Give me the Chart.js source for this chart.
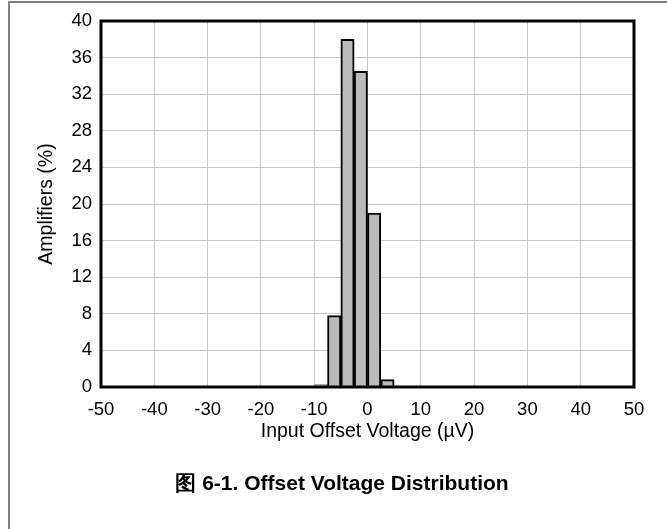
<!DOCTYPE html>
<html>
<head>
<meta charset="utf-8">
<script src="https://cdn.jsdelivr.net/npm/chart.js@4"></script>
<style>
  html, body { margin: 0; padding: 0; background: #fff; }
  canvas { display: block; }
</style>
</head>
<body>
<canvas id="histo" width="667" height="529"></canvas>
<script>
// Datos del histograma (centro de cada bin de 2.5 µV)
const binCenters = [-8.75, -6.25, -3.75, -1.25, 1.25, 3.75];
const amplifiersPct = [0.3, 7.8, 38, 34.5, 19, 0.8];
const xTicks = [-50, -40, -30, -20, -10, 0, 10, 20, 30, 40, 50];
const yTicks = [0, 4, 8, 12, 16, 20, 24, 28, 32, 36, 40];

const xTitle = 'Input Offset Voltage (µV)';
const yTitle = 'Amplifiers (%)';
const caption = '图 6-1. Offset Voltage Distribution';

const font = 'Liberation Sans, Arial, sans-serif';

// Marco, borde del área y pie de figura
const framePlugin = {
    id: 'frame',
    afterDatasetsDraw(chart) {
        const ctx = chart.ctx;
        const a = chart.chartArea;
        ctx.save();
        ctx.strokeStyle = '#000';
        ctx.lineWidth = 3;
        ctx.strokeRect(a.left, a.top, a.right - a.left, a.bottom - a.top);
        ctx.restore();
    },
    afterDraw(chart) {
        const ctx = chart.ctx;
        ctx.save();
        ctx.strokeStyle = '#808080';
        ctx.lineWidth = 2;
        ctx.beginPath();
        ctx.moveTo(9, 529);
        ctx.lineTo(9, 2);
        ctx.lineTo(667, 2);
        ctx.stroke();
        ctx.fillStyle = '#000';
        ctx.font = 'bold 21px ' + font;
        ctx.textAlign = 'center';
        ctx.textBaseline = 'middle';
        ctx.fillText(caption, 342, 484);
        ctx.restore();
    }
};

const ctxHisto = document.getElementById('histo').getContext('2d');
new Chart(ctxHisto, {
    type: 'bar',
    data: {
        datasets: [{
            data: binCenters.map((x, i) => ({ x: x, y: amplifiersPct[i] })),
            backgroundColor: '#BBBBBB',
            borderColor: c => (c.raw && c.raw.y < 0.5) ? '#AAAAAA' : '#000000',
            borderWidth: c => (c.raw && c.raw.y < 0.5) ? 1 : 2,
            barPercentage: 1,
            categoryPercentage: 1
        }]
    },
    options: {
        responsive: false,
        animation: false,
        layout: { padding: { top: 21, right: 33, left: 0, bottom: 86 } },
        plugins: {
            legend: { display: false },
            tooltip: { enabled: false }
        },
        scales: {
            x: {
                type: 'linear',
                min: -50,
                max: 50,
                offset: false,
                grid: { offset: false, color: '#C8C8C8', drawTicks: false },
                border: { display: false },
                afterFit: s => { s.height = 56; },
                afterBuildTicks: s => { s.ticks = xTicks.map(v => ({ value: v })); },
                ticks: { color: '#000', padding: 12, font: { family: font, size: 18.5 } },
                title: {
                    display: true,
                    text: xTitle,
                    color: '#000',
                    font: { family: font, size: 19.5 },
                    padding: { top: 0, bottom: 0 }
                }
            },
            y: {
                min: 0,
                max: 40,
                grid: { color: '#C8C8C8', drawTicks: false },
                border: { display: false },
                afterFit: s => { s.width = 101; },
                ticks: {
                    stepSize: 2,
                    color: '#000',
                    padding: 9,
                    font: { family: font, size: 18.5 },
                    callback: v => yTicks.includes(v) ? v : ''
                },
                title: {
                    display: true,
                    text: yTitle,
                    color: '#000',
                    font: { family: font, size: 19.5 },
                    padding: { top: 35, bottom: 0 }
                }
            }
        }
    },
    plugins: [framePlugin]
});
</script>
</body>
</html>
